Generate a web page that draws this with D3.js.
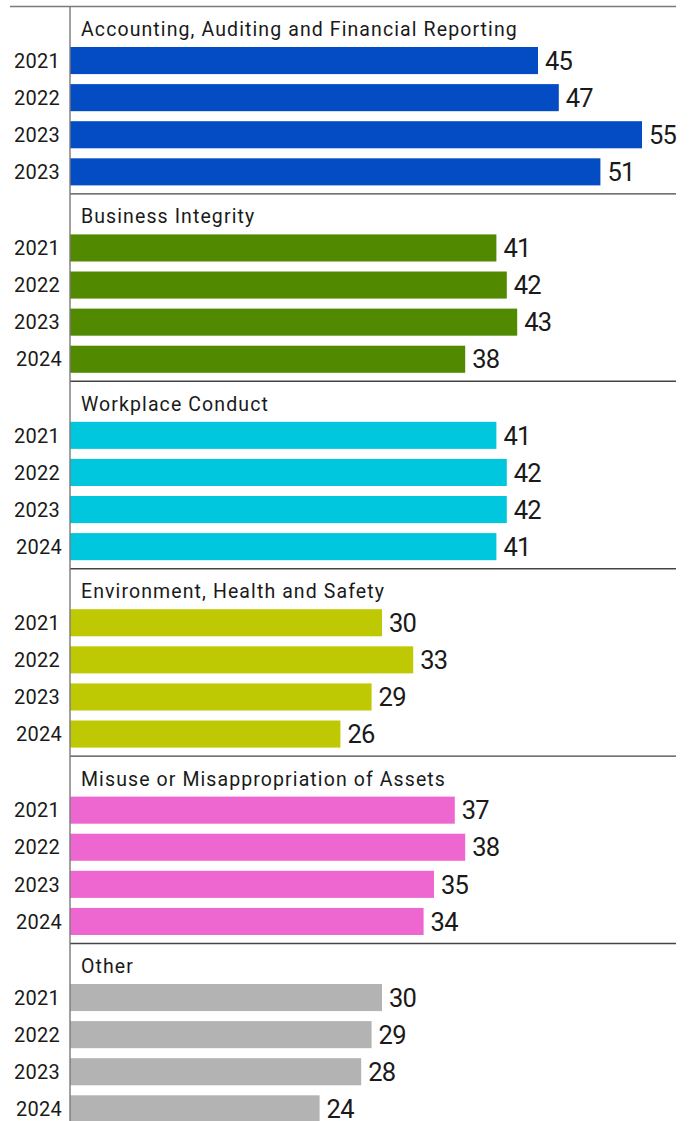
<!DOCTYPE html>
<html>
<head>
<meta charset="utf-8">
<script src="https://cdn.jsdelivr.net/npm/d3@7"></script>
<style>
  html, body { margin: 0; padding: 0; background: #ffffff; }
  svg { display: block; }
  text { font-family: Roboto, "Noto Sans", sans-serif; fill: #1a1a1a; }
</style>
</head>
<body>
<svg id="chart" width="689" height="1121"></svg>
<script>
const categories = [
  "Accounting, Auditing and Financial Reporting",
  "Business Integrity",
  "Workplace Conduct",
  "Environment, Health and Safety",
  "Misuse or Misappropriation of Assets",
  "Other"
];
const yearLabels = [
  ["2021", "2022", "2023", "2023"],
  ["2021", "2022", "2023", "2024"],
  ["2021", "2022", "2023", "2024"],
  ["2021", "2022", "2023", "2024"],
  ["2021", "2022", "2023", "2024"],
  ["2021", "2022", "2023", "2024"]
];
const accountingValues = [45, 47, 55, 51];
const integrityValues = [41, 42, 43, 38];
const workplaceValues = [41, 42, 42, 41];
const ehsValues = [30, 33, 29, 26];
const misuseValues = [37, 38, 35, 34];
const otherValues = [30, 29, 28, 24];
const seriesValues = [accountingValues, integrityValues, workplaceValues, ehsValues, misuseValues, otherValues];
const colors = ["#034cc3", "#518a00", "#00c7dd", "#bfc903", "#ee66cf", "#b3b3b3"];

const svg = d3.select("#chart");
const axisX = 70;
const topY = 6.5;
const groupPitch = 187.4;

const x = d3.scaleLinear().domain([0, 60]).range([axisX, axisX + 624]);
const groupY = d3.scaleBand()
  .domain(categories)
  .range([topY, topY + groupPitch * categories.length])
  .padding(0);

const rowScale = d3.scaleBand()
  .domain(d3.range(4))
  .range([35.5, 35.5 + 4 * 37.1])
  .paddingInner(0.27)
  .paddingOuter(0.135);

const groups = svg.selectAll("g.group")
  .data(categories.map((c, i) => ({ name: c, i, years: yearLabels[i], values: seriesValues[i], color: colors[i] })))
  .enter().append("g")
  .attr("class", "group")
  .attr("transform", d => `translate(0,${groupY(d.name)})`);

// separators
groups.append("line")
  .attr("x1", d => d.i === 0 ? 10 : axisX)
  .attr("x2", 676)
  .attr("y1", 0).attr("y2", 0)
  .attr("stroke", d => d.i === 0 ? "#7a7a7a" : "#444")
  .attr("stroke-width", 1.4);

// titles
groups.append("text")
  .attr("x", 81)
  .attr("y", 29.5)
  .attr("font-size", 19.5)
  .attr("letter-spacing", 1.1)
  .text(d => d.name);

groups.each(function(d) {
  const g = d3.select(this);
  const rows = d.values.map((v, j) => ({ v, j, year: d.years[j] }));
  g.selectAll("rect.bar").data(rows).enter().append("rect")
    .attr("class", "bar")
    .attr("x", x(0))
    .attr("y", r => rowScale(r.j))
    .attr("width", r => x(r.v) - x(0))
    .attr("height", rowScale.bandwidth())
    .attr("fill", d.color);
  g.selectAll("text.year").data(rows).enter().append("text")
    .attr("class", "year")
    .attr("x", r => r.year === "2024" ? 16 : 14)
    .attr("y", r => rowScale(r.j) + rowScale.bandwidth() / 2)
    .attr("dy", "0.36em")
    .attr("font-size", 20)
    .attr("letter-spacing", 0.3)
    .attr("fill", "#222")
    .text(r => r.year);
  g.selectAll("text.val").data(rows).enter().append("text")
    .attr("class", "val")
    .attr("x", r => x(r.v) + 7)
    .attr("y", r => rowScale(r.j) + rowScale.bandwidth() / 2)
    .attr("dy", "0.36em")
    .attr("font-size", 25.5)
    .attr("letter-spacing", -0.8)
    .text(r => r.v);
});

// vertical axis line
svg.append("line")
  .attr("x1", axisX).attr("x2", axisX)
  .attr("y1", topY).attr("y2", 1121)
  .attr("stroke", "#7a7a7a")
  .attr("stroke-width", 1.4);
</script>
</body>
</html>
